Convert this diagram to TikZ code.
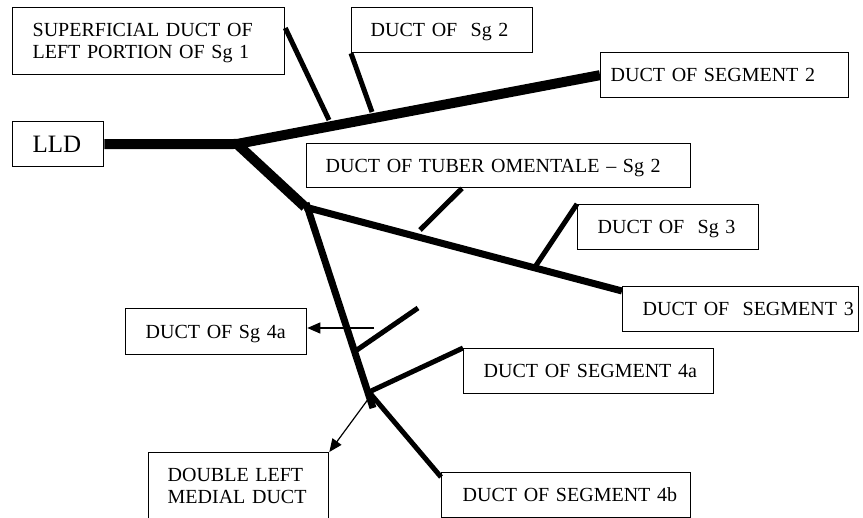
\documentclass[tikz,border=0pt]{standalone}
\usepackage{fontspec}
\setmainfont{Liberation Serif}
\usetikzlibrary{arrows.meta}
\newcommand\lblfont{\fontsize{20pt}{22pt}\selectfont}
\newcommand\lldfont{\fontsize{25pt}{27pt}\selectfont}
\begin{document}
\begin{tikzpicture}[x=1pt, y=-1pt,
  box/.style={draw, line width=1.3pt, anchor=north west, align=left,
    inner ysep=0pt, font=\lblfont, text height=13.3pt, text depth=0pt},
  duct/.style={line width=#1},
  thinarrow/.style={line width=1.2pt, -{Triangle[length=13pt,width=11pt]}}]
\useasboundingbox (0,0) rectangle (863,518);
\clip (0,0) rectangle (863,518);

% boxes
\node[box, text width=232pt, inner xsep=20pt, minimum height=67pt, text depth=22pt] (super) at (12,7)
  {\mbox{SUPERFICIAL DUCT OF}\\\mbox{LEFT PORTION OF Sg 1}};
\node[box, text width=143pt, inner xsep=19pt, minimum height=45pt] (sg2) at (351,7) {\mbox{DUCT OF\ \ Sg 2}};
\node[box, text width=228pt, inner xsep=10pt, minimum height=45pt] (seg2) at (600,52) {\mbox{DUCT OF SEGMENT 2}};
\node[box, text width=51pt, inner xsep=20pt, minimum height=45pt, font=\lldfont, text height=16.5pt] (lld) at (12,121) {\mbox{LLD}};
\node[box, text width=346pt, inner xsep=19pt, minimum height=44pt] (tuber) at (306,143) {\mbox{DUCT OF TUBER OMENTALE – Sg 2}};
\node[box, text width=141pt, inner xsep=20pt, minimum height=45pt] (sg3) at (577,204) {\mbox{DUCT OF\ \ Sg 3}};
\node[box, text width=196pt, inner xsep=20pt, minimum height=45pt] (seg3) at (622,286) {\mbox{DUCT OF\ \ SEGMENT 3}};
\node[box, text width=210pt, inner xsep=20pt, minimum height=45pt] (seg4a) at (463,348) {\mbox{DUCT OF SEGMENT 4a}};
\node[box, text width=207pt, inner xsep=21pt, minimum height=45pt] (seg4b) at (441,472) {\mbox{DUCT OF SEGMENT 4b}};
\node[box, text width=141pt, inner xsep=20pt, minimum height=46pt] (sg4a) at (125,308) {\mbox{DUCT OF Sg 4a}};
\node[box, text width=142pt, inner xsep=19pt, inner ysep=16pt, text depth=40pt] (double) at (148,452)
  {\mbox{DOUBLE LEFT}\\\mbox{MEDIAL DUCT}};

% junctions and free ends
\coordinate (j1) at (237,144);
\coordinate (j2) at (305,207);
\coordinate (v0) at (306,203);
\coordinate (v1) at (373,408);
\coordinate (j3) at (369,392);
\coordinate (b4a0) at (354,352);
\coordinate (b4a1) at (418,308);
\coordinate (bs3) at (535,267);
\coordinate (bt0) at (420,230);
\coordinate (bs2) at (372,112);
\coordinate (bsup) at (329,120);
\coordinate (a1) at (374,328);
\coordinate (a2) at (369,398);

% ducts
\draw[duct=10pt, line join=miter] (lld.east) -- (j1) -- (seg2.west);
\draw[duct=10pt] (j1) -- (j2);
\draw[duct=7pt] (j2) -- ([yshift=-5pt]seg3.north west);
\draw[duct=7pt] (v0) -- (v1);
\draw[duct=5pt] (j3) -- (seg4a.north west);
\draw[duct=5pt] (j3) -- ([yshift=-5pt]seg4b.north west);
\draw[duct=5pt] (b4a0) -- (b4a1);
\draw[duct=5pt] (bs3) -- (sg3.north west);
\draw[duct=5pt] (bt0) -- ([xshift=156pt]tuber.south west);
\draw[duct=5pt] (bs2) -- (sg2.south west);
\draw[duct=5pt] (bsup) -- ([yshift=-21pt]super.north east);

% arrows
\draw[thinarrow] (a1) -- (a1 -| sg4a.east);
\draw[thinarrow] (a2) -- (double.north east);
\end{tikzpicture}
\end{document}
